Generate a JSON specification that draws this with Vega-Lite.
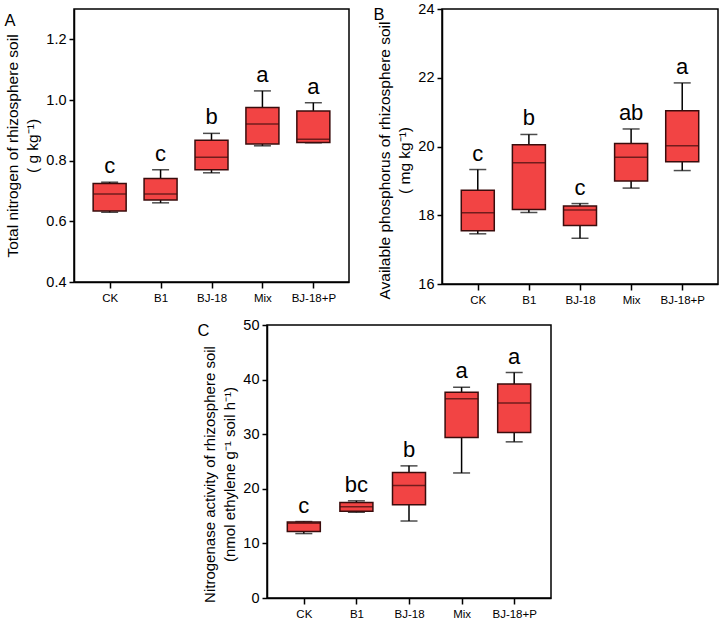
{
  "$schema": "https://vega.github.io/schema/vega-lite/v6.json",
  "padding": {"left": 3, "top": 0, "right": 0, "bottom": 0},
  "background": "white",
  "datasets": {
    "A": [
      {"group": "CK", "min": 0.630, "q1": 0.634, "median": 0.690, "q3": 0.725, "max": 0.729, "letter": "c"},
      {"group": "B1", "min": 0.661, "q1": 0.670, "median": 0.690, "q3": 0.741, "max": 0.770, "letter": "c"},
      {"group": "BJ-18", "min": 0.760, "q1": 0.770, "median": 0.811, "q3": 0.867, "max": 0.890, "letter": "b"},
      {"group": "Mix", "min": 0.849, "q1": 0.855, "median": 0.921, "q3": 0.975, "max": 1.030, "letter": "a"},
      {"group": "BJ-18+P", "min": 0.859, "q1": 0.860, "median": 0.871, "q3": 0.964, "max": 0.991, "letter": "a"}
    ],
    "B": [
      {"group": "CK", "min": 17.46, "q1": 17.55, "median": 18.07, "q3": 18.73, "max": 19.33, "letter": "c"},
      {"group": "B1", "min": 18.08, "q1": 18.17, "median": 19.53, "q3": 20.05, "max": 20.35, "letter": "b"},
      {"group": "BJ-18", "min": 17.33, "q1": 17.70, "median": 18.15, "q3": 18.27, "max": 18.34, "letter": "c"},
      {"group": "Mix", "min": 18.79, "q1": 19.00, "median": 19.69, "q3": 20.09, "max": 20.51, "letter": "ab"},
      {"group": "BJ-18+P", "min": 19.30, "q1": 19.56, "median": 20.02, "q3": 21.04, "max": 21.85, "letter": "a"}
    ],
    "C": [
      {"group": "CK", "min": 11.8, "q1": 12.2, "median": 13.7, "q3": 13.9, "max": 14.0, "letter": "c"},
      {"group": "B1", "min": 15.7, "q1": 15.9, "median": 16.7, "q3": 17.5, "max": 17.8, "letter": "bc"},
      {"group": "BJ-18", "min": 14.1, "q1": 17.1, "median": 20.6, "q3": 23.0, "max": 24.2, "letter": "b"},
      {"group": "Mix", "min": 22.9, "q1": 29.4, "median": 36.5, "q3": 37.7, "max": 38.6, "letter": "a"},
      {"group": "BJ-18+P", "min": 28.6, "q1": 30.3, "median": 35.7, "q3": 39.2, "max": 41.3, "letter": "a"}
    ]
  },
  "config": {
    "font": "Liberation Sans",
    "view": {"stroke": "black", "strokeWidth": 1.5},
    "axis": {
      "grid": false,
      "domainColor": "black",
      "domainWidth": 1.5,
      "tickColor": "black",
      "tickWidth": 1.5,
      "tickSize": 5,
      "labelColor": "black",
      "labelFont": "Liberation Sans",
      "titleFont": "Liberation Sans",
      "titleColor": "black",
      "titleFontWeight": "normal",
      "titleFontSize": 15.5,
      "titleLineHeight": 20
    },
    "axisX": {"labelFontSize": 11.5, "labelAngle": 0, "labelPadding": 4, "tickSize": 6, "titleAngle": 0, "titleAlign": "left", "titleBaseline": "top", "titleFontSize": 16.5, "titleX": -70},
    "axisY": {"labelFontSize": 14.5, "labelPadding": 3, "titlePadding": 5}
  },
  "vconcat": [
    {
      "hconcat": [
        {
          "width": 275,
          "height": 273,
          "data": {"name": "A"},
          "encoding": {
            "x": {"field": "group", "type": "nominal", "sort": ["CK", "B1", "BJ-18", "Mix", "BJ-18+P"], "scale": {"type": "point", "padding": 0.7}, "axis": {"title": "A", "titleY": -270}}
          },
          "layer": [
            {"mark": {"type": "rule", "color": "black", "strokeWidth": 1.5},
             "encoding": {"y": {"field": "min", "type": "quantitative", "scale": {"domain": [0.4, 1.3], "nice": false, "zero": false}, "axis": {"values": [0.4, 0.6, 0.8, 1.0, 1.2], "format": ".1f", "title": ["Total nitrogen of rhizosphere soil", "( g kg⁻¹)"]}}, "y2": {"field": "max"}}},
            {"mark": {"type": "tick", "color": "black", "size": 17, "thickness": 1.5}, "encoding": {"y": {"field": "min", "type": "quantitative"}}},
            {"mark": {"type": "tick", "color": "black", "size": 17, "thickness": 1.5}, "encoding": {"y": {"field": "max", "type": "quantitative"}}},
            {"mark": {"type": "bar", "fill": "#f24444", "stroke": "#3a0c0c", "strokeWidth": 1.5, "size": 33}, "encoding": {"y": {"field": "q1", "type": "quantitative"}, "y2": {"field": "q3"}}},
            {"mark": {"type": "tick", "color": "#3a0c0c", "size": 33, "thickness": 1.5}, "encoding": {"y": {"field": "median", "type": "quantitative"}}},
            {"mark": {"type": "text", "dy": -9, "baseline": "alphabetic", "fontSize": 22, "color": "black"}, "encoding": {"y": {"field": "max", "type": "quantitative"}, "text": {"field": "letter"}}}
          ]
        },
        {
          "width": 276,
          "height": 275,
          "data": {"name": "B"},
          "encoding": {
            "x": {"field": "group", "type": "nominal", "sort": ["CK", "B1", "BJ-18", "Mix", "BJ-18+P"], "scale": {"type": "point", "padding": 0.7}, "axis": {"title": "B", "titleX": -69, "titleY": -278}}
          },
          "layer": [
            {"mark": {"type": "rule", "color": "black", "strokeWidth": 1.5},
             "encoding": {"y": {"field": "min", "type": "quantitative", "scale": {"domain": [16, 24], "nice": false, "zero": false}, "axis": {"values": [16, 18, 20, 22, 24], "titleY": 151, "title": ["Available phosphorus of rhizosphere soil", "( mg kg⁻¹)"]}}, "y2": {"field": "max"}}},
            {"mark": {"type": "tick", "color": "black", "size": 17, "thickness": 1.5}, "encoding": {"y": {"field": "min", "type": "quantitative"}}},
            {"mark": {"type": "tick", "color": "black", "size": 17, "thickness": 1.5}, "encoding": {"y": {"field": "max", "type": "quantitative"}}},
            {"mark": {"type": "bar", "fill": "#f24444", "stroke": "#3a0c0c", "strokeWidth": 1.5, "size": 33}, "encoding": {"y": {"field": "q1", "type": "quantitative"}, "y2": {"field": "q3"}}},
            {"mark": {"type": "tick", "color": "#3a0c0c", "size": 33, "thickness": 1.5}, "encoding": {"y": {"field": "median", "type": "quantitative"}}},
            {"mark": {"type": "text", "dy": -9, "baseline": "alphabetic", "fontSize": 22, "color": "black"}, "encoding": {"y": {"field": "max", "type": "quantitative"}, "text": {"field": "letter"}}}
          ]
        }
      ],
      "spacing": 22
    },
    {
      "hconcat": [
        {
          "width": 122,
          "height": 20,
          "data": {"values": []},
          "mark": "point",
          "view": {"stroke": null}
        },
        {
          "width": 284,
          "height": 273,
          "data": {"name": "C"},
          "encoding": {
            "x": {"field": "group", "type": "nominal", "sort": ["CK", "B1", "BJ-18", "Mix", "BJ-18+P"], "scale": {"type": "point", "padding": 0.7}, "axis": {"title": "C", "titleY": -276}}
          },
          "layer": [
            {"mark": {"type": "rule", "color": "black", "strokeWidth": 1.5},
             "encoding": {"y": {"field": "min", "type": "quantitative", "scale": {"domain": [0, 50], "nice": false}, "axis": {"values": [0, 10, 20, 30, 40, 50], "titleY": 149, "titleFontSize": 15, "title": ["Nitrogenase activity of rhizosphere soil", "(nmol ethylene g⁻¹ soil h⁻¹)"]}}, "y2": {"field": "max"}}},
            {"mark": {"type": "tick", "color": "black", "size": 17, "thickness": 1.5}, "encoding": {"y": {"field": "min", "type": "quantitative"}}},
            {"mark": {"type": "tick", "color": "black", "size": 17, "thickness": 1.5}, "encoding": {"y": {"field": "max", "type": "quantitative"}}},
            {"mark": {"type": "bar", "fill": "#f24444", "stroke": "#3a0c0c", "strokeWidth": 1.5, "size": 33}, "encoding": {"y": {"field": "q1", "type": "quantitative"}, "y2": {"field": "q3"}}},
            {"mark": {"type": "tick", "color": "#3a0c0c", "size": 33, "thickness": 1.5}, "encoding": {"y": {"field": "median", "type": "quantitative"}}},
            {"mark": {"type": "text", "dy": -9, "baseline": "alphabetic", "fontSize": 22, "color": "black"}, "encoding": {"y": {"field": "max", "type": "quantitative"}, "text": {"field": "letter"}}}
          ]
        }
      ],
      "spacing": 0
    }
  ],
  "spacing": 9
}
